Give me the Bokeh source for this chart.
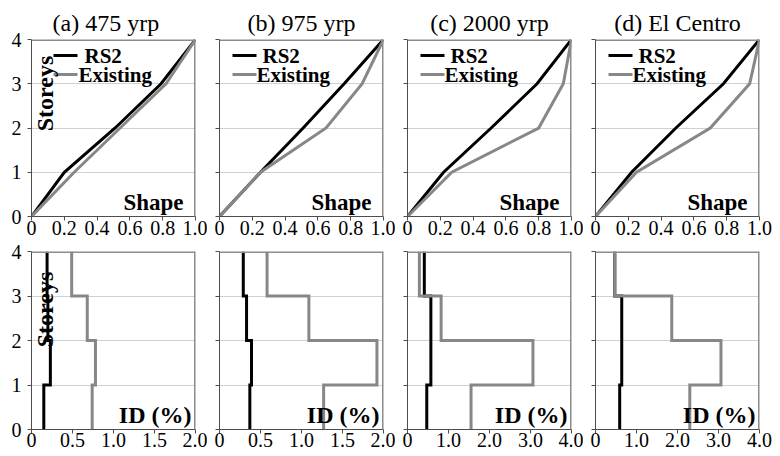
import numpy as np
from bokeh.plotting import figure
from bokeh.layouts import column, row
from bokeh.models import Range1d, FixedTicker, Label, BoxAnnotation, Span
from bokeh.embed import file_html
from bokeh.resources import INLINE

# ---------------- data ----------------
titles = ["(a) 475 yrp", "(b) 975 yrp", "(c) 2000 yrp", "(d) El Centro"]
storey_levels = [0, 1, 2, 3, 4]
storey_tick_labels = ["0", "1", "2", "3", "4"]

# normalised deformed shape at floor levels 0..4
shape_rs2_a = [0, 0.20, 0.51, 0.79, 1.0]
shape_rs2_b = [0, 0.25, 0.51, 0.76, 1.0]
shape_rs2_c = [0, 0.22, 0.51, 0.79, 1.0]
shape_rs2_d = [0, 0.22, 0.49, 0.78, 1.0]
shape_ex_a = [0, 0.26, 0.54, 0.82, 1.0]
shape_ex_b = [0, 0.25, 0.65, 0.87, 1.0]
shape_ex_c = [0, 0.27, 0.80, 0.95, 1.0]
shape_ex_d = [0, 0.25, 0.70, 0.94, 1.0]

# interstorey drift (%) for storeys 1..4
id_rs2_a = [0.15, 0.23, 0.20, 0.19]
id_rs2_b = [0.37, 0.39, 0.33, 0.29]
id_rs2_c = [0.47, 0.57, 0.57, 0.41]
id_rs2_d = [0.59, 0.64, 0.64, 0.47]
id_ex_a = [0.74, 0.78, 0.68, 0.49]
id_ex_b = [1.27, 1.92, 1.09, 0.58]
id_ex_c = [1.55, 3.06, 0.82, 0.29]
id_ex_d = [2.30, 3.06, 1.86, 0.47]

shape_ticks = [0, 0.2, 0.4, 0.6, 0.8, 1.0]
shape_tick_labels = ["0", "0.2", "0.4", "0.6", "0.8", "1.0"]
id_ticks_2 = [0, 0.5, 1.0, 1.5, 2.0]
id_tick_labels_2 = ["0", "0.5", "1.0", "1.5", "2.0"]
id_ticks_4 = [0, 1, 2, 3, 4]
id_tick_labels_4 = ["0", "1.0", "2.0", "3.0", "4.0"]

series_names = ["RS2", "Existing"]

# ---------------- style ----------------
BLACK = "#000000"
GRAY = "#878787"
AXIS = "#4d4d4d"
GRID = "#d0d0d0"
BORDER = "#8c8c8c"
SERIF = "Liberation Serif, Times New Roman, DejaVu Serif, serif"
FW = 164


def style_axes(p, xticks, xlabels, show_y, top_row):
    p.xaxis.ticker = FixedTicker(ticks=xticks)
    p.xaxis.major_label_overrides = {t: l for t, l in zip(xticks, xlabels)}
    p.yaxis.ticker = FixedTicker(ticks=storey_levels)
    for ax in (p.xaxis, p.yaxis):
        ax.axis_line_color = AXIS
        ax.axis_line_width = 1
        ax.major_tick_line_color = AXIS
        ax.major_tick_in = 0
        ax.major_tick_out = 4
        ax.minor_tick_in = 0
        ax.minor_tick_out = 0
        ax.major_label_text_font = SERIF
        ax.major_label_text_font_size = "20px"
        ax.major_label_text_color = "#000000"
    p.xaxis.major_label_standoff = 0 if top_row else -1
    if show_y:
        p.yaxis.major_label_overrides = {v: l for v, l in zip(storey_levels, storey_tick_labels)}
        p.yaxis.major_label_standoff = 6
    else:
        p.yaxis.major_label_overrides = {v: "" for v in storey_levels}
        p.yaxis.major_label_standoff = 0
    p.xgrid.visible = False
    p.ygrid.grid_line_color = GRID
    p.ygrid.grid_line_width = 1
    p.outline_line_color = None


def add_border(p, xmax):
    p.add_layout(Span(location=4, dimension="width", line_color=BORDER, line_width=3))
    p.add_layout(Span(location=xmax, dimension="height", line_color=BORDER, line_width=3))


def make_fig(col, top_row, xmax, title=None):
    left = 31 if col == 0 else 12
    right = 21 if col == 3 else 12
    if top_row:
        mt, mb, h = 39, 26, 242
    else:
        mt, mb, h = 9, 27, 214
    p = figure(width=left + FW + right, height=h,
               x_range=Range1d(0, xmax), y_range=Range1d(0, 4),
               output_backend="svg", toolbar_location=None,
               min_border_left=left, min_border_right=right,
               min_border_top=mt, min_border_bottom=mb,
               title=title, background_fill_color="white",
               border_fill_color="white")
    if title is not None:
        p.title.text_font = SERIF
        p.title.text_font_size = "24px"
        p.title.text_font_style = "normal"
        p.title.standoff = 7
        p.title.text_color = "#000000"
        if col == 0:
            p.title.align = "left"
            p.title.offset = 21
        else:
            p.title.align = "center"
    return p


def storey_label(p, y):
    p.add_layout(Label(x=13, y=y, x_units="screen", y_units="screen",
                       text="Storeys", angle=np.pi / 2, text_align="center",
                       text_baseline="middle", text_font=SERIF,
                       text_font_size="24px", text_font_style="bold",
                       text_color="#000000"))


def corner_label(p, text, x, y, size):
    p.add_layout(Label(x=x, y=y, x_units="screen", y_units="screen",
                       text=text, text_align="right", text_baseline="bottom",
                       text_font=SERIF, text_font_size=size,
                       text_font_style="bold", text_color="#000000"))


def legend(p, col, fh):
    x0 = 22 if col == 0 else 13
    rows_y = [fh - 16, fh - 35]
    text_x = [x0 + 31, x0 + 25] if col == 0 else [x0 + 30, x0 + 24]
    for name, color, yy, tx in zip(series_names, [BLACK, GRAY], rows_y, text_x):
        p.add_layout(BoxAnnotation(left=x0, right=x0 + 24, bottom=yy - 1.5, top=yy + 1.5,
                                   left_units="screen", right_units="screen",
                                   bottom_units="screen", top_units="screen",
                                   fill_color=color, fill_alpha=1, line_alpha=0))
        p.add_layout(Label(x=tx, y=yy, x_units="screen", y_units="screen",
                           text=name, text_align="left", text_baseline="middle",
                           text_font=SERIF, text_font_size="21px",
                           text_font_style="bold", text_color="#000000"))


def step_profile(vals):
    lower = np.array(storey_levels[:-1], dtype=float)
    upper = np.array(storey_levels[1:], dtype=float)
    ys = np.column_stack([lower, upper]).ravel()
    xs = np.repeat(np.array(vals, dtype=float), 2)
    return xs, ys


shape_rs2 = [shape_rs2_a, shape_rs2_b, shape_rs2_c, shape_rs2_d]
shape_ex = [shape_ex_a, shape_ex_b, shape_ex_c, shape_ex_d]
id_rs2 = [id_rs2_a, id_rs2_b, id_rs2_c, id_rs2_d]
id_ex = [id_ex_a, id_ex_b, id_ex_c, id_ex_d]

top_figs = []
bot_figs = []
for c in range(4):
    # ----- shape panel -----
    p = make_fig(c, True, 1.0, titles[c])
    style_axes(p, shape_ticks, shape_tick_labels, c == 0, True)
    p.line(shape_rs2[c], storey_levels, line_color=BLACK, line_width=3, line_join="miter")
    p.line(shape_ex[c], storey_levels, line_color=GRAY, line_width=3, line_join="miter")
    add_border(p, 1.0)
    legend(p, c, 177)
    corner_label(p, "Shape", FW - 12, 2, "23px")
    if c == 0:
        storey_label(p, 123)
    top_figs.append(p)

    # ----- drift panel -----
    xmax = 2.0 if c < 2 else 4.0
    ticks = id_ticks_2 if c < 2 else id_ticks_4
    labels = id_tick_labels_2 if c < 2 else id_tick_labels_4
    q = make_fig(c, False, xmax)
    style_axes(q, ticks, labels, c == 0, False)
    xs, ys = step_profile(id_rs2[c])
    q.line(xs, ys, line_color=BLACK, line_width=3, line_join="miter")
    xs, ys = step_profile(id_ex[c])
    q.line(xs, ys, line_color=GRAY, line_width=3, line_join="miter")
    add_border(q, xmax)
    corner_label(q, "ID (%)", FW - 4, 2, "24px")
    if c == 0:
        storey_label(q, 120)
    bot_figs.append(q)

layout = column(row(*top_figs), row(*bot_figs))

with open("out.html", "w") as f:
    f.write(file_html(layout, INLINE))
